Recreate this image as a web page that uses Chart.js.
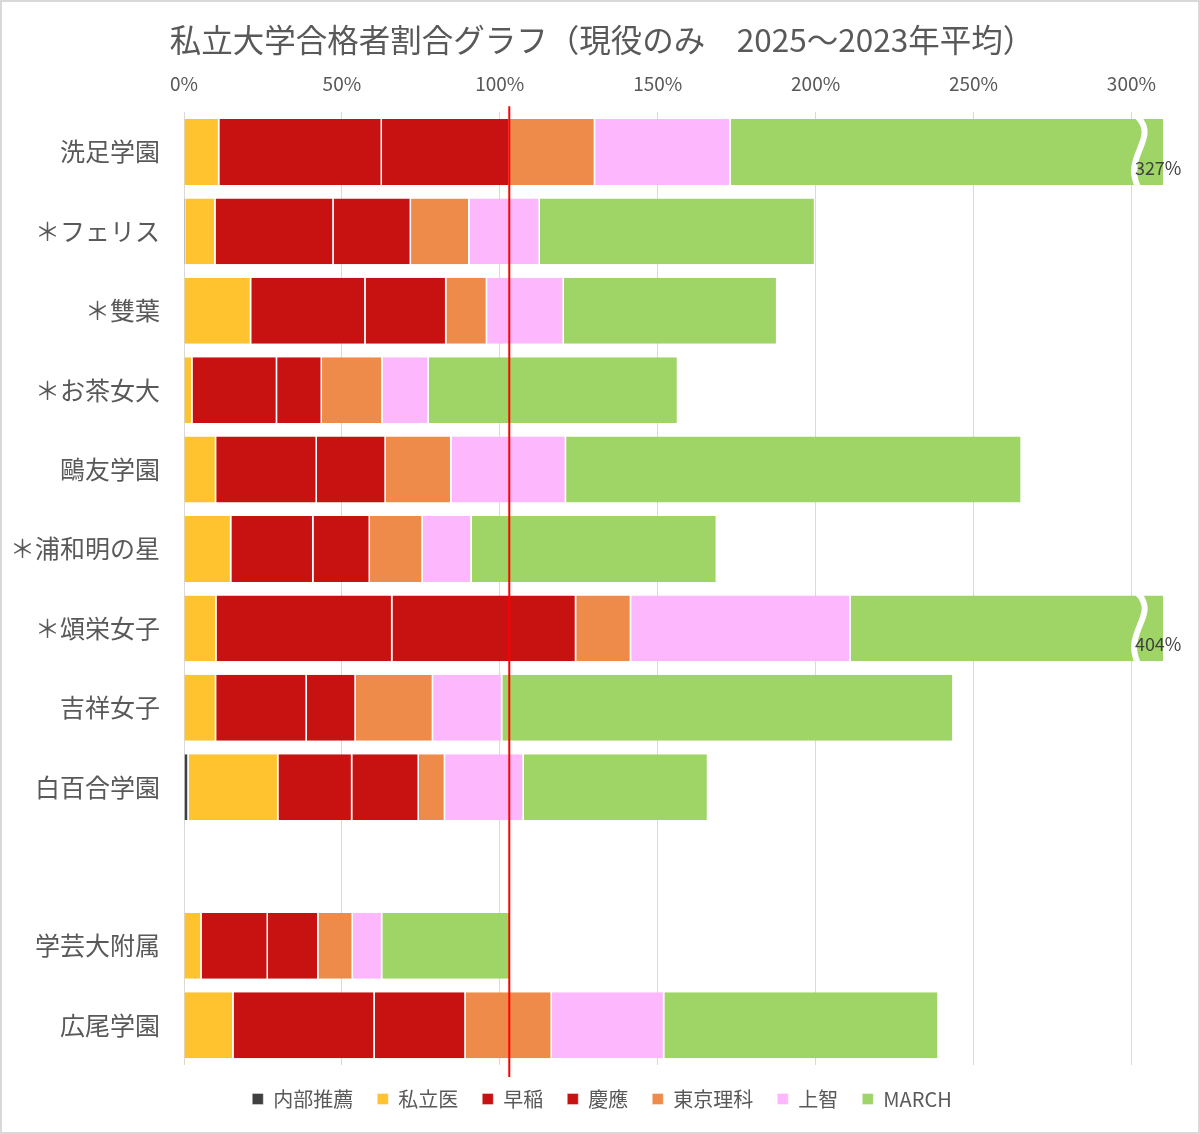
<!DOCTYPE html>
<html>
<head>
<meta charset="utf-8">
<script src="https://cdn.jsdelivr.net/npm/chart.js@4/dist/chart.umd.min.js"></script>
<style>
  body { margin: 0; background: #fff; }
  #wrap { width: 1200px; height: 1134px; box-sizing: border-box; border: 2px solid #d9d9d9; }
</style>
</head>
<body>
<div id="wrap"><canvas id="chart" width="1196" height="1130"></canvas></div>
<script>
const schools = ['洗足学園', '＊フェリス', '＊雙葉', '＊お茶女大', '鷗友学園', '＊浦和明の星', '＊頌栄女子', '吉祥女子', '白百合学園', '', '学芸大附属', '広尾学園'];

const naibu  = [0,    0.4,  0,    0,    0,     0,    0,     0,     1.5,  null, 0,    0];
const shiiri = [11.2, 9.6,  21.3, 2.7,  10.2,  15.0, 10.3,  10.2,  28.4, null, 5.6,  15.7];
const waseda = [51.5, 37.4, 36.2, 26.8, 31.9,  26.0, 55.7,  28.7,  23.4, null, 21.0, 44.7];
const keio   = [40.5, 24.5, 25.6, 14.2, 21.8,  17.9, 58.2,  15.5,  21.1, null, 16.0, 28.8];
const riko   = [27.0, 18.5, 12.9, 19.2, 20.8,  16.7, 17.4,  24.5,  8.3,  null, 10.9, 27.3];
const sophia = [42.9, 22.3, 24.3, 14.6, 36.3,  15.5, 69.5,  21.9,  24.9, null, 9.3,  35.6];
const march  = [153.9, 87.2, 67.6, 79.0, 144.3, 77.7, 192.9, 142.9, 58.4, null, 40.9, 86.9];

const seriesNames = ['内部推薦', '私立医', '早稲', '慶應', '東京理科', '上智', 'MARCH'];
const seriesColors = ['#404040', '#ffc32f', '#c81212', '#c81212', '#ef8b4a', '#fdb7fc', '#9fd467'];
const seriesData = [naibu, shiiri, waseda, keio, riko, sophia, march];

const xTicks = [0, 50, 100, 150, 200, 250, 300];
const refLine = 103;     // 赤線
const axisMax = 310;
const breakAt = 303;

const textColor = '#595959';
const fontFamily = '"Noto Sans CJK JP", "Noto Sans", sans-serif';

const datasets = seriesNames.map((name, i) => ({
    label: name,
    data: seriesData[i],
    backgroundColor: seriesColors[i],
    borderColor: '#ffffff',
    borderWidth: { top: 0, bottom: 0, left: 0, right: 1.5 },
    borderSkipped: false,
    barPercentage: 0.83,
    categoryPercentage: 1.0
}));

const extras = {
    id: 'extras',
    afterDatasetsDraw(chart) {
        const ctx = chart.ctx;
        const xs = chart.scales.x;
        const area = chart.chartArea;

        // 省略記号と合計ラベル
        const lastMeta = chart.getDatasetMeta(seriesData.length - 1);
        schools.forEach((s, idx) => {
            let total = 0;
            seriesData.forEach(arr => { total += arr[idx] || 0; });
            if (total <= axisMax) return;
            const bar = lastMeta.data[idx];
            const h = bar.height;
            const top = bar.y - h / 2;
            const bx = xs.getPixelForValue(breakAt);
            ctx.save();
            ctx.strokeStyle = '#ffffff';
            ctx.lineWidth = 6;
            ctx.beginPath();
            ctx.moveTo(bx - 3, top - 2);
            ctx.bezierCurveTo(bx + 18, top + h * 0.3, bx - 18, top + h * 0.55, bx - 3, top + h + 2);
            ctx.stroke();
            ctx.fillStyle = '#404040';
            ctx.font = '18px ' + fontFamily;
            ctx.textAlign = 'left';
            ctx.textBaseline = 'middle';
            ctx.fillText(Math.round(total) + '%', bx - 6, bar.y + 16);
            ctx.restore();
        });

        // 100%付近の赤線
        const rx = xs.getPixelForValue(refLine);
        ctx.save();
        ctx.strokeStyle = '#ff0000';
        ctx.lineWidth = 2;
        ctx.beginPath();
        ctx.moveTo(rx, area.top - 6);
        ctx.lineTo(rx, area.bottom + 12);
        ctx.stroke();
        ctx.restore();
    }
};

new Chart(document.getElementById('chart'), {
    type: 'bar',
    data: { labels: schools, datasets },
    options: {
        indexAxis: 'y',
        responsive: false,
        animation: false,
        layout: { padding: { left: 4, right: 0, top: 0, bottom: 13 } },
        scales: {
            x: {
                stacked: true,
                position: 'top',
                min: 0,
                max: axisMax,
                afterBuildTicks: axis => { axis.ticks = xTicks.map(v => ({ value: v })); },
                ticks: {
                    padding: 17,
                    color: textColor,
                    font: { family: fontFamily, size: 19 },
                    callback: v => v + '%'
                },
                grid: { color: '#d9d9d9', drawTicks: false },
                border: { display: false }
            },
            y: {
                stacked: true,
                afterFit: axis => { axis.width = 178; },
                ticks: {
                    padding: 24,
                    color: textColor,
                    font: { family: fontFamily, size: 25 }
                },
                grid: { display: false, drawTicks: false },
                border: { display: false }
            },
            yRight: {
                type: 'category',
                position: 'right',
                afterFit: axis => { axis.width = 35; },
                ticks: { display: false },
                grid: { display: false, drawTicks: false },
                border: { display: false }
            }
        },
        plugins: {
            title: {
                display: true,
                text: '私立大学合格者割合グラフ（現役のみ　2025～2023年平均）',
                color: textColor,
                font: { family: fontFamily, size: 31.5, weight: 'normal', lineHeight: 1 },
                padding: { top: 22, bottom: 0 }
            },
            legend: {
                position: 'bottom',
                labels: {
                    color: textColor,
                    font: { family: fontFamily, size: 20 },
                    boxWidth: 11,
                    boxHeight: 11,
                    padding: 24
                }
            },
            tooltip: { enabled: false }
        }
    },
    plugins: [extras]
});
</script>
</body>
</html>
